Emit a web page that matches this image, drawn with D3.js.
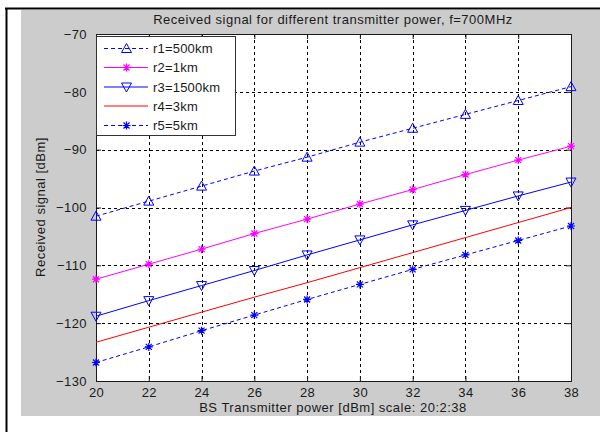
<!DOCTYPE html>
<html><head><meta charset="utf-8">
<script src="https://cdn.jsdelivr.net/npm/d3@7"></script>
<style>body{margin:0;background:#fff}svg{display:block}text{font-family:"Liberation Sans",Arial,sans-serif;fill:#1a1a1a}</style>
</head><body><svg id="c" width="600" height="432"></svg>
<script>
const powers = [20,22,24,26,28,30,32,34,36,38];
const r1 = [-101.5,-98.9,-96.3,-93.7,-91.3,-88.7,-86.3,-83.9,-81.5,-79.1];
const r2 = [-112.4,-109.8,-107.2,-104.5,-102.0,-99.4,-96.9,-94.3,-91.8,-89.4];
const r3 = [-118.8,-116.1,-113.5,-110.9,-108.2,-105.6,-103.0,-100.5,-98.0,-95.6];
const r4 = [-123.3,-120.7,-118.1,-115.5,-113.0,-110.4,-107.8,-105.2,-102.6,-100.0];
const r5 = [-126.8,-124.1,-121.3,-118.6,-115.9,-113.3,-110.7,-108.2,-105.7,-103.2];
const seriesNames = ["r1=500km","r2=1km","r3=1500km","r4=3km","r5=5km"];
const yTicks = [-130,-120,-110,-100,-90,-80,-70];
const xTicks = [20,22,24,26,28,30,32,34,36,38];
const titleText = "Received signal for different transmitter power, f=700MHz";
const xLabel = "BS Transmitter power [dBm] scale: 20:2:38";
const yLabel = "Received signal [dBm]";

const styles = [
  {data:r1, color:"#0000ff", dash:"4,3", marker:"tri-up"},
  {data:r2, color:"#ff00ff", dash:null, marker:"star"},
  {data:r3, color:"#0000ff", dash:null, marker:"tri-down"},
  {data:r4, color:"#ff0000", dash:null, marker:null},
  {data:r5, color:"#0000ff", dash:"4,3", marker:"star"}
];

const svg = d3.select("#c");
svg.append("rect").attr("x",21).attr("y",10).attr("width",579).attr("height",406).attr("fill","#cccccc");
svg.append("line").attr("x1",5).attr("x2",600).attr("y1",8.5).attr("y2",8.5).attr("stroke","#000").attr("stroke-width",2);
svg.append("line").attr("x1",6.5).attr("x2",6.5).attr("y1",8).attr("y2",432).attr("stroke","#000").attr("stroke-width",2);

const L=96, R=571, T=34, B=381;
const x = d3.scaleLinear().domain([20,38]).range([L,R]);
const y = d3.scaleLinear().domain([-130,-70]).range([B,T]);

svg.append("rect").attr("x",L).attr("y",T).attr("width",R-L).attr("height",B-T).attr("fill","#fff");

const g = svg.append("g");
g.selectAll(".vg").data(xTicks.slice(1,-1)).join("line")
  .attr("x1",d=>Math.round(x(d))+0.5).attr("x2",d=>Math.round(x(d))+0.5).attr("y1",T).attr("y2",B)
  .attr("stroke","#000").attr("stroke-dasharray","3,3").attr("stroke-width",1);
g.selectAll(".hg").data(yTicks.slice(1,-1)).join("line")
  .attr("y1",d=>Math.round(y(d))+0.5).attr("y2",d=>Math.round(y(d))+0.5).attr("x1",L).attr("x2",R)
  .attr("stroke","#000").attr("stroke-dasharray","3,3").attr("stroke-width",1);

const ax = svg.append("g").attr("transform",`translate(0,${B})`)
  .call(d3.axisBottom(x).tickValues(xTicks).tickSize(-5).tickPadding(8).tickFormat(d3.format("d")));
const axT = svg.append("g").attr("transform",`translate(0,${T})`)
  .call(d3.axisTop(x).tickValues(xTicks).tickSize(-5).tickFormat(""));
const ay = svg.append("g").attr("transform",`translate(${L},0)`)
  .call(d3.axisLeft(y).tickValues(yTicks).tickSize(-5).tickPadding(9).tickFormat(d3.format("d")));
const ayR = svg.append("g").attr("transform",`translate(${R},0)`)
  .call(d3.axisRight(y).tickValues(yTicks).tickSize(-5).tickFormat(""));
[ax,axT,ay,ayR].forEach(a=>{
  a.select(".domain").attr("stroke","#1a1a1a");
  a.selectAll(".tick line").attr("stroke","#1a1a1a");
  a.selectAll("text").attr("font-size",13).attr("letter-spacing","0.4px").attr("font-family","Liberation Sans, Arial, sans-serif").attr("fill","#1a1a2a");
});
ax.selectAll("text").attr("dy","0.6em");

const lineGen = d3.line().x((d,i)=>x(powers[i])).y(d=>y(d));
function marker(sel, type, color, cx, cy){
  if(type==="tri-up"){
    sel.append("path").attr("d",`M${cx},${cy-5}L${cx+5},${cy+4}L${cx-5},${cy+4}Z`).attr("fill","none").attr("stroke",color).attr("stroke-width",1);
  } else if(type==="tri-down"){
    sel.append("path").attr("d",`M${cx},${cy+5}L${cx+5},${cy-4}L${cx-5},${cy-4}Z`).attr("fill","none").attr("stroke",color).attr("stroke-width",1);
  } else if(type==="star"){
    const r=4;
    sel.append("path").attr("d",`M${cx-r},${cy}L${cx+r},${cy}M${cx},${cy-r}L${cx},${cy+r}M${cx-3},${cy-3}L${cx+3},${cy+3}M${cx-3},${cy+3}L${cx+3},${cy-3}`)
      .attr("stroke",color).attr("stroke-width",1.2).attr("fill","none");
  }
}
const plot = svg.append("g");
styles.forEach(s=>{
  plot.append("path").datum(s.data).attr("d",lineGen).attr("fill","none")
    .attr("stroke",s.color).attr("stroke-width",1).attr("stroke-dasharray",s.dash);
  if(s.marker) s.data.forEach((v,i)=>marker(plot,s.marker,s.color,x(powers[i]),y(v)));
});

const lg = svg.append("g");
lg.append("rect").attr("x",96.5).attr("y",36.5).attr("width",139).attr("height",99).attr("fill","#fff").attr("stroke","#333").attr("stroke-width",1);
const rowY = [48.5,67.5,87,106,125.5];
styles.forEach((s,i)=>{
  lg.append("line").attr("x1",104).attr("x2",148).attr("y1",rowY[i]).attr("y2",rowY[i])
    .attr("stroke",s.color).attr("stroke-width",1).attr("stroke-dasharray",s.dash);
  if(s.marker) marker(lg,s.marker,s.color,126.5,rowY[i]);
  lg.append("text").attr("x",153).attr("y",rowY[i]).attr("dy","0.35em").attr("font-size",13).attr("letter-spacing","0.2px").text(seriesNames[i]);
});

svg.append("text").attr("x",333).attr("y",24).attr("text-anchor","middle").attr("font-size",13).attr("letter-spacing","0.5px").text(titleText);
svg.append("text").attr("x",333).attr("y",412).attr("text-anchor","middle").attr("font-size",13).attr("letter-spacing","0.5px").text(xLabel);
svg.append("text").attr("transform","translate(45,207) rotate(-90)").attr("text-anchor","middle").attr("font-size",13).attr("letter-spacing","0.5px").text(yLabel);
</script></body></html>
